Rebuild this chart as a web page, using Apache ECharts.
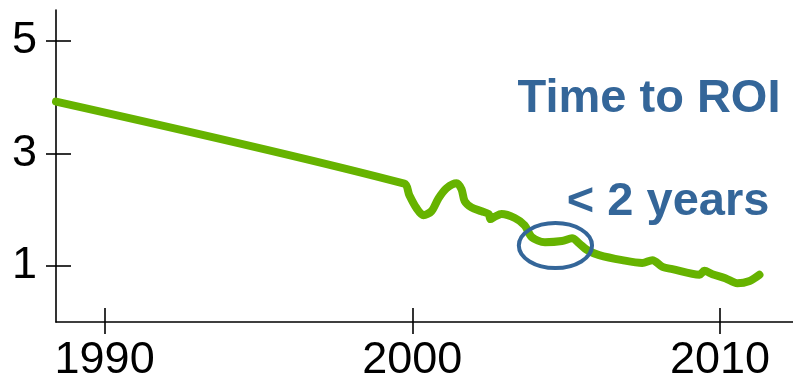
<!DOCTYPE html>
<html><head><meta charset="utf-8">
<script src="https://cdn.jsdelivr.net/npm/echarts@6/dist/echarts.min.js"></script>
<style>html,body{margin:0;padding:0;background:#fff}#c{width:793px;height:379px}</style>
</head><body><div id="c"></div><script>
// Data
const years = [1988.42, 1999.74, 1999.90, 2000.13, 2000.36, 2000.62, 2000.85, 2001.11, 2001.44, 2001.60, 2001.70, 2001.92, 2002.25, 2002.48, 2002.54, 2002.67, 2002.90, 2003.33, 2003.65, 2003.88, 2004.31, 2004.86, 2005.19, 2005.42, 2005.68, 2006.07, 2006.82, 2007.47, 2007.80, 2008.13, 2008.45, 2009.33, 2009.49, 2009.75, 2010.17, 2010.56, 2010.96, 2011.28];
const values = [3.92, 2.46, 2.26, 2.03, 1.90, 1.97, 2.20, 2.38, 2.47, 2.36, 2.15, 2.04, 1.97, 1.92, 1.83, 1.87, 1.92, 1.85, 1.72, 1.51, 1.42, 1.44, 1.49, 1.40, 1.28, 1.19, 1.10, 1.05, 1.10, 0.98, 0.94, 0.84, 0.91, 0.85, 0.78, 0.69, 0.73, 0.84];
const xTicks = [1990, 2000, 2010];
const yTicks = [1, 3, 5];
const xRange = [1988.42, 2012.37];
const yRange = [0, 5.55];
const titleText = 'Time to ROI';
const subText = '< 2 years';
// annotation anchors in data coordinates
const titleAnchor = [2003.42, 4.39];
const subAnchor = [2005.02, 2.55];
const ellipseCenter = [2004.65, 1.36];
const ellipseHalf = [1.19, 0.40];

const BLUE = '#346699';
const GREEN = '#66b300';
const labelFont = {fontFamily: '"Liberation Sans", Arial, sans-serif', fontSize: 45, color: '#000'};

const chart = echarts.init(document.getElementById('c'), null, {renderer: 'canvas'});
const axisLine = {show: true, lineStyle: {color: '#000', width: 1.6}};
const tickStyle = {color: '#000', width: 1.6};
const option = {
  animation: false,
  grid: {left: 56, right: 0, top: 10, bottom: 57, containLabel: false, outerBoundsMode: 'none'},
  xAxis: [
    {type: 'value', min: xRange[0], max: xRange[1], axisLine,
     splitLine: {show: false},
     axisTick: {show: true, inside: false, length: 12, customValues: xTicks, lineStyle: tickStyle},
     axisLabel: Object.assign({show: true, margin: 16, customValues: xTicks, hideOverlap: false, formatter: v => String(Math.round(v))}, labelFont)},
    {type: 'value', position: 'bottom', min: xRange[0], max: xRange[1], axisLine: {show: false},
     splitLine: {show: false},
     axisTick: {show: true, inside: true, length: 14, customValues: xTicks, lineStyle: tickStyle},
     axisLabel: {show: false}}
  ],
  yAxis: [
    {type: 'value', min: yRange[0], max: yRange[1], axisLine,
     splitLine: {show: false},
     axisTick: {show: true, inside: false, length: 10, customValues: yTicks, lineStyle: tickStyle},
     axisLabel: Object.assign({show: true, margin: 19, customValues: yTicks, padding: [18, 0, 0, 0], formatter: v => String(Math.round(v))}, labelFont)},
    {type: 'value', position: 'left', min: yRange[0], max: yRange[1], axisLine: {show: false},
     splitLine: {show: false},
     axisTick: {show: true, inside: true, length: 15, customValues: yTicks, lineStyle: tickStyle},
     axisLabel: {show: false}}
  ],
  series: [{
    type: 'line', xAxisIndex: 0, yAxisIndex: 0,
    data: years.map((y, i) => [y, values[i]]),
    showSymbol: false, symbol: 'none', smooth: 0.3,
    lineStyle: {color: GREEN, width: 8, cap: 'round', join: 'round'},
    z: 2
  }]
};
chart.setOption(option);

function px(p) { return chart.convertToPixel({xAxisIndex: 0, yAxisIndex: 0}, p); }
const c = px(ellipseCenter);
const ex = px([ellipseCenter[0] + ellipseHalf[0], ellipseCenter[1]]);
const ey = px([ellipseCenter[0], ellipseCenter[1] + ellipseHalf[1]]);
const t1 = px(titleAnchor);
const t2 = px(subAnchor);
const textFont = 'bold 47px "Liberation Sans", Arial, sans-serif';
chart.setOption({
  graphic: [
    {type: 'ellipse', shape: {cx: c[0], cy: c[1], rx: Math.abs(ex[0] - c[0]), ry: Math.abs(c[1] - ey[1])},
     style: {fill: 'none', stroke: BLUE, lineWidth: 4}, z: 10},
    {type: 'text', x: t1[0], y: t1[1], style: {text: titleText, font: textFont, fill: BLUE, align: 'left', verticalAlign: 'top'}, z: 10},
    {type: 'text', x: t2[0], y: t2[1], style: {text: subText, font: textFont, fill: BLUE, align: 'left', verticalAlign: 'top'}, z: 10}
  ]
});
</script></body></html>
